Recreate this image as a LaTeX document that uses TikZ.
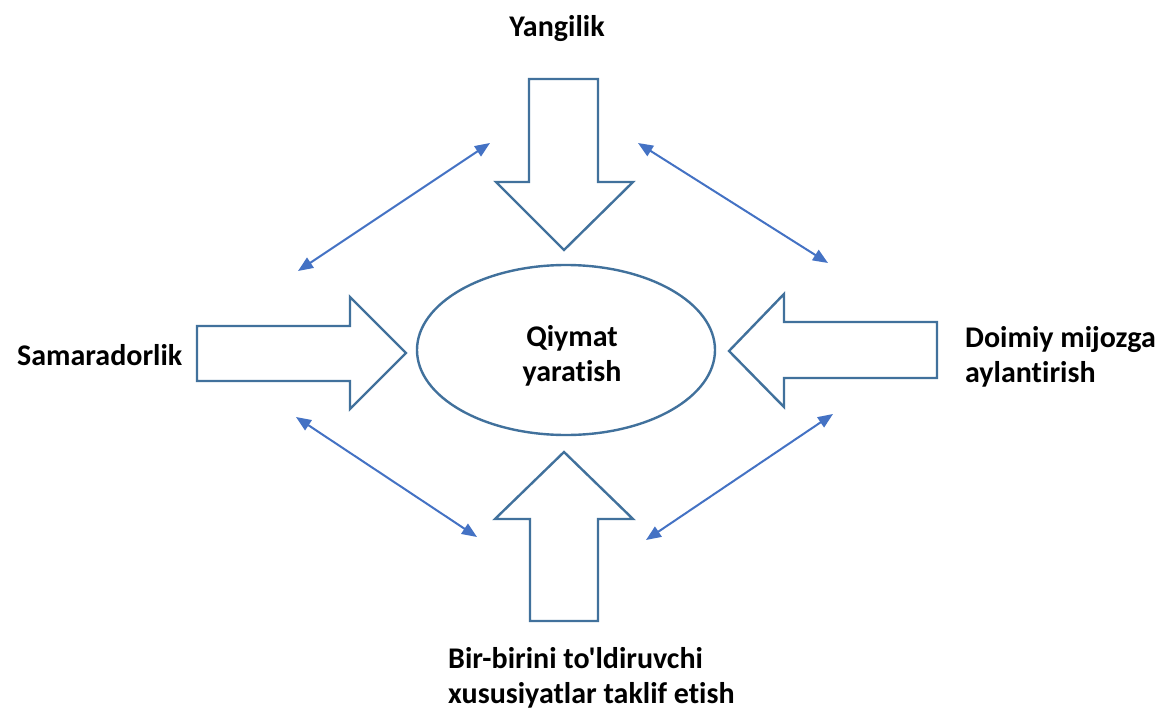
\documentclass[tikz,border=0pt]{standalone}
\usepackage{fontspec}
\setmainfont{Carlito}[Ligatures={TeXOff,NoCommon}]
\usetikzlibrary{shapes.geometric,arrows.meta}
\definecolor{outl}{RGB}{65,113,156}
\definecolor{link}{RGB}{68,114,196}
\tikzset{
  blockarrow/.style={draw=outl, line width=2.4pt, line join=miter, fill=white},
  lbl/.style={font=\fontsize{30}{35}\selectfont\bfseries, text=black, inner sep=0pt},
  linkarrow/.style={draw=link, line width=2pt, {Triangle[length=15pt,width=12pt]}-{Triangle[length=15pt,width=12pt]}},
}
\begin{document}
\begin{tikzpicture}[x=1pt,y=-1pt]
\useasboundingbox[fill=white] (0,0) rectangle (1160,709);
% block arrows
\draw[blockarrow] (529,79) -- (598,79) -- (598,182) -- (633,182) -- (564,250) -- (496,182) -- (529,182) -- cycle;
\draw[blockarrow] (197,326) -- (350,326) -- (350,297) -- (406,353) -- (350,409) -- (350,381) -- (197,381) -- cycle;
\draw[blockarrow] (937,322) -- (784,322) -- (784,294) -- (729,351) -- (784,407) -- (784,378) -- (937,378) -- cycle;
\draw[blockarrow] (530,621) -- (598,621) -- (598,519) -- (633,519) -- (564,452) -- (495,519) -- (530,519) -- cycle;
% centre
\node[ellipse, draw=outl, line width=2.4pt, minimum width=298pt, minimum height=170pt, inner sep=0pt] (core) at (566,350) {};
\node[lbl, align=center] (coretext) at (572,356) {Qiymat\\yaratish};
% labels
\node[lbl, anchor=base] (top) at (557,37) {Yangilik};
\node[lbl, anchor=base west] (left) at (17,365) {Samaradorlik};
\node[lbl, anchor=base west, align=left] (right) at (965,382) {Doimiy mijozga\\aylantirish};
\node[lbl, anchor=base west, align=left] (bottom) at (448,703) {Bir-birini to'ldiruvchi\\xususiyatlar taklif etish};
% link arrows
\coordinate (a1) at (298,271); \coordinate (a2) at (490,143);
\coordinate (b1) at (638,143); \coordinate (b2) at (828,263);
\coordinate (c1) at (296,417); \coordinate (c2) at (477,537);
\coordinate (d1) at (646,540); \coordinate (d2) at (833,414);
\draw[linkarrow] (a1) -- (a2);
\draw[linkarrow] (b1) -- (b2);
\draw[linkarrow] (c1) -- (c2);
\draw[linkarrow] (d1) -- (d2);
\end{tikzpicture}
\end{document}
